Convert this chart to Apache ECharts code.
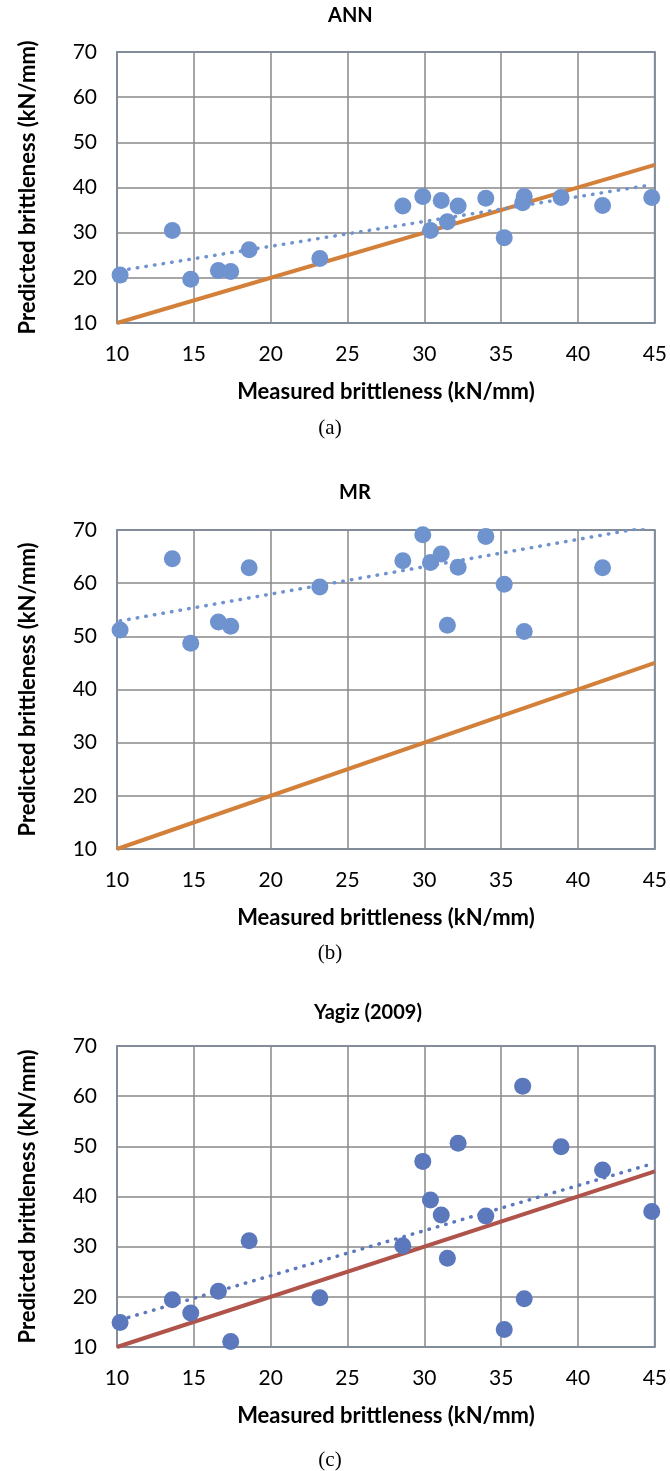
<!DOCTYPE html>
<html>
<head>
<meta charset="utf-8">
<script src="https://cdn.jsdelivr.net/npm/echarts@6/dist/echarts.min.js"></script>
<style>
  html, body { margin: 0; padding: 0; background: #fff; }
  #chart { width: 670px; height: 1471px; }
</style>
</head>
<body>
<div id="chart"></div>
<script>
// Measured brittleness (kN/mm), shared by all three panels
var measured = [10.2, 13.6, 14.8, 16.6, 17.4, 18.6, 23.2, 28.6, 29.9, 30.4,
                31.1, 31.5, 32.2, 34.0, 35.2, 36.4, 36.5, 38.9, 41.6, 44.8];

// Predicted brittleness per model (null = off the chart)
var annPred   = [20.6, 30.5, 19.7, 21.6, 21.4, 26.2, 24.3, 35.9, 38.0, 30.5,
                 37.1, 32.4, 35.9, 37.6, 28.9, 36.6, 38.0, 37.8, 36.0, 37.8];
var mrPred    = [51.2, 64.6, 48.7, 52.7, 51.9, 62.9, 59.3, 64.2, 69.1, 63.9,
                 65.5, 52.1, 63.0, 68.8, 59.8, null, 50.9, null, 62.9, null];
var yagizPred = [14.9, 19.4, 16.8, 21.1, 11.1, 31.2, 19.8, 30.2, 47.0, 39.3,
                 36.3, 27.7, 50.6, 36.1, 13.5, 62.0, 19.6, 49.9, 45.3, 37.0];

// Linear trendline end points
var annTrend   = [[10.2, 21.6], [44.8, 40.6]];
var mrTrend    = [[10.2, 52.9], [44.8, 70.7]];
var yagizTrend = [[10.2, 15.4], [44.8, 46.5]];

// 1:1 line
var oneToOne = [[10, 10], [45, 45]];

var panelTitles = ['ANN', 'MR', 'Yagiz (2009)'];
var panelCaptions = ['(a)', '(b)', '(c)'];
var xName = 'Measured brittleness (kN/mm)';
var yName = 'Predicted brittleness (kN/mm)';

var chart = echarts.init(document.getElementById('chart'));

var font = 'Lato, Calibri, sans-serif';
var gridTops = [52, 530, 1046];
var gridHeights = [271, 319, 301];
var titleLefts = [328, 339, 314];
var titleTops = [18, 495, 1015];
var captionTops = [428, 953, 1460];

function pairs(xs, ys) {
    var out = [];
    for (var i = 0; i < xs.length; i++) {
        if (ys[i] !== null) out.push([xs[i], ys[i]]);
    }
    return out;
}

var panels = [
    { pred: annPred, trend: annTrend, dot: '#6f93cf', line: '#d3813a' },
    { pred: mrPred, trend: mrTrend, dot: '#6f93cf', line: '#d3813a' },
    { pred: yagizPred, trend: yagizTrend, dot: '#5a78bb', line: '#b0534b' }
];

var grids = [], xAxes = [], yAxes = [], series = [], graphics = [];

panels.forEach(function (p, i) {
    grids.push({
        left: 117, width: 538, top: gridTops[i], height: gridHeights[i],
        show: true, borderColor: '#7399d1', borderWidth: 2, backgroundColor: '#fff'
    });
    xAxes.push({
        type: 'value', gridIndex: i, min: 10, max: 45, interval: 5,
        name: xName, nameLocation: 'middle', nameGap: 58,
        nameTextStyle: { fontFamily: font, fontWeight: 'bold', fontSize: 22, color: '#000' },
        axisLine: { show: false }, axisTick: { show: false },
        axisLabel: { fontFamily: font, fontSize: 21, color: '#000', margin: 21 },
        splitLine: { lineStyle: { color: '#898989', width: 1.5 } }
    });
    yAxes.push({
        type: 'value', gridIndex: i, min: 10, max: 70, interval: 10,
        name: yName, nameLocation: 'middle', nameGap: 78, nameRotate: 90,
        nameTextStyle: { fontFamily: font, fontWeight: 'bold', fontSize: 22, color: '#000' },
        axisLine: { show: false }, axisTick: { show: false },
        axisLabel: { fontFamily: font, fontSize: 21, color: '#000', margin: 20 },
        splitLine: { lineStyle: { color: '#898989', width: 1.5 } }
    });

    // 1:1 line
    series.push({
        type: 'line', xAxisIndex: i, yAxisIndex: i, data: oneToOne,
        symbol: 'none', silent: true, z: 2,
        lineStyle: { color: p.line, width: 4 }
    });
    // measured vs predicted
    series.push({
        type: 'scatter', xAxisIndex: i, yAxisIndex: i, data: pairs(measured, p.pred),
        symbolSize: 17, z: 3,
        itemStyle: { color: p.dot, opacity: 1 }
    });
    // dotted trendline
    series.push({
        type: 'line', xAxisIndex: i, yAxisIndex: i, data: p.trend,
        symbol: 'none', silent: true, z: 4, clip: true,
        lineStyle: { color: p.dot, width: 3.5, type: [0.5, 8.2], cap: 'round' }
    });

    graphics.push({
        type: 'text', left: titleLefts[i], top: titleTops[i] - 12,
        style: { text: panelTitles[i], font: 'bold 20px ' + font, fill: '#000' }
    });
    graphics.push({
        type: 'text', x: 330, y: captionTops[i],
        style: {
            text: panelCaptions[i], font: '21px "Liberation Serif", "Times New Roman", serif',
            fill: '#000', align: 'center', verticalAlign: 'middle'
        }
    });
});

chart.setOption({
    animation: false,
    backgroundColor: '#fff',
    grid: grids,
    xAxis: xAxes,
    yAxis: yAxes,
    series: series,
    graphic: graphics
});
</script>
</body>
</html>
